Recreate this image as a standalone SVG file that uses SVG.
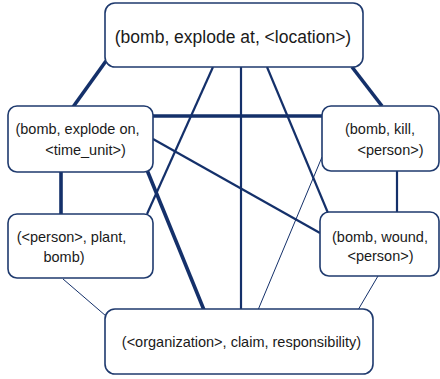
<svg xmlns="http://www.w3.org/2000/svg" width="440" height="379" viewBox="0 0 440 379">
<style>
.box{fill:#ffffff;stroke:#1F3A6E;stroke-width:1.6}
.t{font-family:"Liberation Sans",Arial,sans-serif;font-size:14.5px;fill:#1a1a1a;text-anchor:middle}
.big{font-size:17.5px}
.c{stroke:#14306A;fill:none}
.thick{stroke-width:3.6}
.med{stroke-width:2.2}
.thin{stroke-width:1}
</style>
<rect width="440" height="379" fill="#ffffff"/>
<g id="connectors">
<line class="c thick" x1="106" y1="61" x2="73" y2="107"/>
<line class="c thick" x1="352" y1="67" x2="382" y2="106"/>
<line class="c thick" x1="153" y1="116" x2="322" y2="116"/>
<line class="c med" x1="213" y1="67" x2="147" y2="214"/>
<line class="c med" x1="241" y1="67" x2="241" y2="310"/>
<line class="c med" x1="267" y1="67" x2="328" y2="213"/>
<line class="c med" x1="153" y1="139" x2="320" y2="233"/>
<line class="c thick" x1="147" y1="170" x2="204" y2="310"/>
<line class="c thin" x1="322" y1="157" x2="258" y2="310"/>
<line class="c med" x1="397" y1="171" x2="397" y2="212"/>
<line class="c thin" x1="63" y1="279" x2="106" y2="316"/>
<line class="c thin" x1="378" y1="276" x2="358" y2="310"/>
<line class="c thick" x1="61" y1="172" x2="61" y2="214"/>
</g>
<g id="n-location">
<rect class="box" x="105" y="3" width="258" height="64" rx="10"/>
<text class="t big" x="233" y="43">(bomb, explode at, &lt;location&gt;)</text>
</g>
<g id="n-explode-on">
<rect class="box" x="8" y="106" width="145" height="66" rx="9"/>
<text class="t" x="77.5" y="134">(bomb, explode on,</text>
<text class="t" x="85.5" y="155">&lt;time_unit&gt;)</text>
</g>
<g id="n-kill">
<rect class="box" x="322" y="106" width="117" height="65" rx="9"/>
<text class="t" x="380" y="134">(bomb, kill,</text>
<text class="t" x="390.5" y="155">&lt;person&gt;)</text>
</g>
<g id="n-plant">
<rect class="box" x="8" y="214" width="145" height="64" rx="9"/>
<text class="t" x="71.5" y="242">(&lt;person&gt;, plant,</text>
<text class="t" x="64" y="262">bomb)</text>
</g>
<g id="n-wound">
<rect class="box" x="320" y="212" width="119" height="64" rx="9"/>
<text class="t" x="380" y="242">(bomb, wound,</text>
<text class="t" x="380.5" y="261">&lt;person&gt;)</text>
</g>
<g id="n-claim">
<rect class="box" x="105" y="309" width="268" height="65" rx="10"/>
<text class="t" x="241.5" y="347">(&lt;organization&gt;, claim, responsibility)</text>
</g>
</svg>
